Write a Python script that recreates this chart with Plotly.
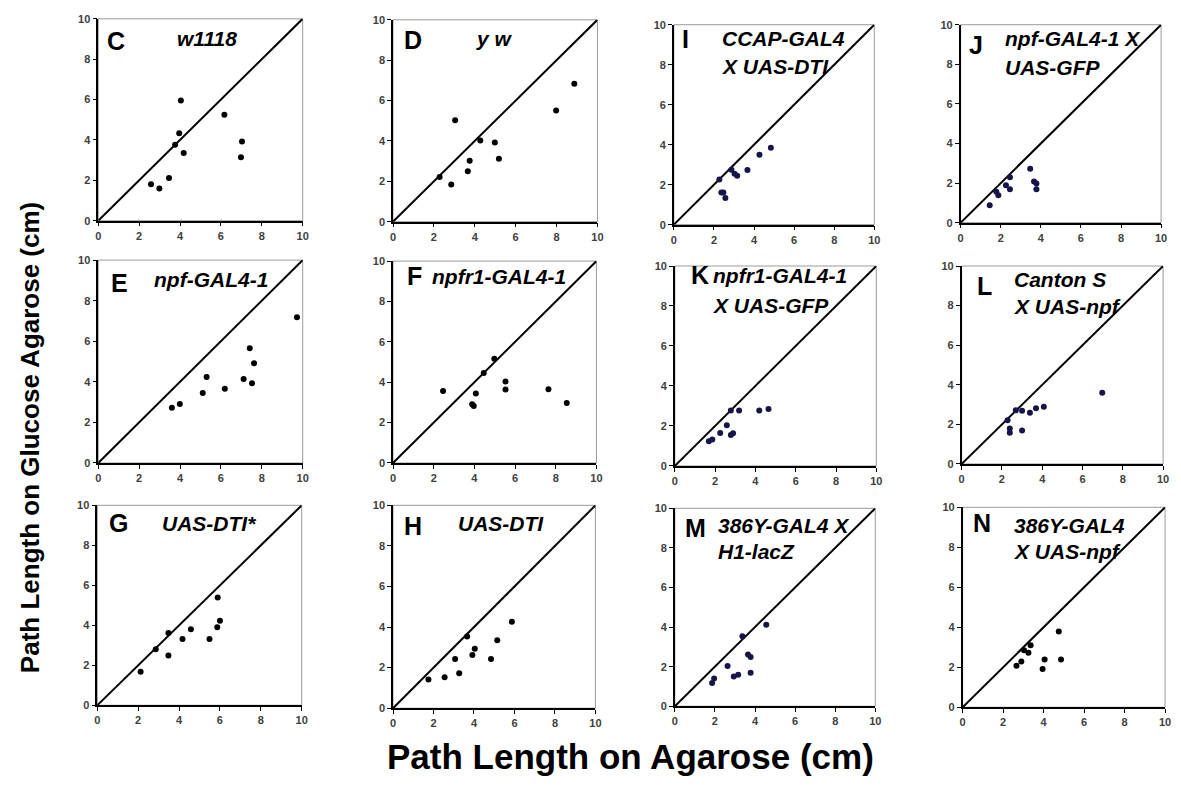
import plotly.graph_objects as go

# ---------------- data (Path length on agarose, glucose agarose; cm) ----------------
C_x = [2.58, 2.99, 3.46, 3.76, 3.96, 4.04, 4.18, 6.17, 6.98, 7.03]
C_y = [1.80, 1.59, 2.11, 3.76, 4.33, 5.95, 3.35, 5.25, 3.14, 3.92]
D_x = [2.28, 2.85, 3.04, 3.66, 3.75, 4.27, 4.98, 5.18, 7.98, 8.87]
D_y = [2.21, 1.84, 5.02, 2.50, 3.02, 4.02, 3.92, 3.12, 5.51, 6.83]
I_x = [2.27, 2.37, 2.47, 2.57, 2.87, 3.03, 3.16, 3.67, 4.27, 4.84]
I_y = [2.26, 1.61, 1.61, 1.33, 2.75, 2.55, 2.45, 2.73, 3.49, 3.84]
J_x = [1.45, 1.78, 1.88, 2.26, 2.46, 2.46, 3.47, 3.66, 3.78, 3.78]
J_y = [0.88, 1.56, 1.38, 1.89, 2.29, 1.69, 2.72, 2.08, 1.98, 1.69]
E_x = [3.60, 3.99, 5.11, 5.30, 6.19, 7.11, 7.41, 7.52, 7.62, 9.72]
E_y = [2.72, 2.91, 3.45, 4.24, 3.66, 4.14, 5.65, 3.93, 4.92, 7.18]
F_x = [2.46, 3.89, 3.97, 4.07, 4.46, 4.98, 5.53, 5.53, 7.64, 8.54]
F_y = [3.56, 2.91, 2.82, 3.44, 4.46, 5.16, 4.03, 3.64, 3.65, 2.97]
K_x = [1.69, 1.86, 2.25, 2.58, 2.78, 2.78, 2.89, 3.19, 4.19, 4.65]
K_y = [1.24, 1.32, 1.65, 2.03, 2.77, 1.55, 1.63, 2.77, 2.77, 2.85]
L_x = [2.28, 2.39, 2.39, 2.69, 3.00, 3.00, 3.39, 3.69, 4.08, 6.98]
L_y = [2.21, 1.79, 1.58, 2.71, 2.69, 1.69, 2.59, 2.81, 2.89, 3.60]
G_x = [2.12, 2.86, 3.48, 3.48, 4.17, 4.58, 5.49, 5.87, 5.89, 6.00]
G_y = [1.67, 2.80, 2.49, 3.61, 3.31, 3.80, 3.31, 3.90, 5.39, 4.23]
H_x = [1.75, 2.55, 3.07, 3.27, 3.66, 3.92, 4.04, 4.84, 5.15, 5.87]
H_y = [1.42, 1.52, 2.43, 1.72, 3.54, 2.62, 2.93, 2.43, 3.35, 4.26]
M_x = [1.86, 1.96, 2.63, 2.94, 3.16, 3.37, 3.65, 3.78, 3.78, 4.56]
M_y = [1.18, 1.40, 2.03, 1.50, 1.59, 3.54, 2.61, 2.49, 1.69, 4.12]
N_x = [2.66, 2.90, 3.03, 3.25, 3.36, 3.95, 4.05, 4.75, 4.86]
N_y = [2.08, 2.29, 2.85, 2.72, 3.10, 1.91, 2.39, 3.79, 2.39]

diag_x = [0, 10]
diag_y = [0, 10]
tick_vals = [0, 2, 4, 6, 8, 10]

panel_letters = ["C", "D", "I", "J", "E", "F", "K", "L", "G", "H", "M", "N"]
panel_titles = [
    ["w1118"], ["y w"], ["CCAP-GAL4", "X UAS-DTI"], ["npf-GAL4-1 X", "UAS-GFP"],
    ["npf-GAL4-1"], ["npfr1-GAL4-1"], ["npfr1-GAL4-1", "X UAS-GFP"], ["Canton S", "X UAS-npf"],
    ["UAS-DTI*"], ["UAS-DTI"], ["386Y-GAL4 X", "H1-lacZ"], ["386Y-GAL4", "X UAS-npf"],
]
xs = [C_x, D_x, I_x, J_x, E_x, F_x, K_x, L_x, G_x, H_x, M_x, N_x]
ys = [C_y, D_y, I_y, J_y, E_y, F_y, K_y, L_y, G_y, H_y, M_y, N_y]

# ---------------- layout (pixels) ----------------
W, H = 1181, 793
boxes = [  # left, top, right, bottom
    (96, 13, 302, 218), (393, 14, 599, 219), (676, 19, 878, 222), (965, 19, 1167, 220),
    (96, 258, 302, 464), (393, 259, 598, 464), (677, 264, 880, 467), (966, 264, 1169, 465),
    (95, 507, 301, 710), (393, 507, 597, 713), (677, 510, 879, 711), (967, 509, 1171, 712),
]
marker_colors = ["#000000", "#000000", "#15154a", "#15154a",
                 "#000000", "#000000", "#15154a", "#15154a",
                 "#000000", "#000000", "#15154a", "#000000"]
letter_pos = [(114, 36), (413, 35), (688, 33), (980, 40),
              (117, 281), (415, 274), (702, 273), (989, 284),
              (116, 525), (413, 528), (698, 530), (987, 525)]
title_pos = [("c", 206, 33, 0), ("c", 495, 33, 0), ("l", 723, 33, 28), ("l", 1008, 33, 29),
             ("c", 210, 278, 0), ("c", 500, 275, 0), ("l", 713, 274, 30), ("l", 1017, 278, 27),
             ("c", 208, 525, 0), ("c", 502, 525, 0), ("l", 718, 527, 27), ("l", 1017, 527, 27)]

FONT = "Arial, 'Liberation Sans', sans-serif"

fig = go.Figure()
annotations = []
shapes = []
for i in range(12):
    n = i + 1
    sfx = "" if n == 1 else str(n)
    l, t, r, b = boxes[i]
    common = dict(range=[0, 10], tickvals=tick_vals,
                  showline=True, linecolor="black", linewidth=1.5, mirror=False,
                  ticks="outside", ticklen=4, tickwidth=1, tickcolor="black",
                  showgrid=False, zeroline=False,
                  tickfont=dict(family=FONT, size=11, color="#404040", weight="bold"))
    fig.layout["xaxis" + sfx] = dict(domain=[l / W, r / W], anchor="y" + sfx, **common)
    fig.layout["yaxis" + sfx] = dict(domain=[1 - b / H, 1 - t / H], anchor="x" + sfx, **common)
    shapes.append(dict(type="rect", xref="x" + sfx + " domain", yref="y" + sfx + " domain",
                       x0=0, x1=1, y0=0, y1=1, line=dict(color="#9a9a9a", width=1),
                       layer="below"))
    fig.add_trace(go.Scatter(x=diag_x, y=diag_y, mode="lines",
                             line=dict(color="black", width=2),
                             xaxis="x" + sfx, yaxis="y" + sfx, showlegend=False,
                             hoverinfo="skip"))
    fig.add_trace(go.Scatter(x=xs[i], y=ys[i], mode="markers",
                             marker=dict(color=marker_colors[i], size=6),
                             xaxis="x" + sfx, yaxis="y" + sfx, showlegend=False))
    lx, ly = letter_pos[i]
    annotations.append(dict(text="<b>" + panel_letters[i] + "</b>", x=lx / W, y=1 - ly / H,
                            xref="paper", yref="paper", showarrow=False,
                            xanchor="center", yanchor="middle",
                            font=dict(family=FONT, size=25, color="black")))
    mode, tx, ty, dy = title_pos[i]
    for k, line in enumerate(panel_titles[i]):
        annotations.append(dict(text="<b><i>" + line + "</i></b>", x=tx / W,
                                y=1 - (ty + k * dy) / H,
                                xref="paper", yref="paper", showarrow=False,
                                xanchor="center" if mode == "c" else "left",
                                yanchor="middle",
                                font=dict(family=FONT, size=21, color="black")))

annotations.append(dict(text="<b>Path Length on Glucose Agarose (cm)</b>", x=28 / W, y=1 - 438 / H,
                        xref="paper", yref="paper", showarrow=False, textangle=-90,
                        xanchor="center", yanchor="middle",
                        font=dict(family=FONT, size=26, color="black")))
annotations.append(dict(text="<b>Path Length on Agarose (cm)</b>", x=632 / W, y=1 - 762 / H,
                        xref="paper", yref="paper", showarrow=False,
                        xanchor="center", yanchor="middle",
                        font=dict(family=FONT, size=35, color="black")))

fig.update_layout(width=W, height=H, margin=dict(l=0, r=0, t=0, b=0),
                  paper_bgcolor="white", plot_bgcolor="white",
                  annotations=annotations, shapes=shapes, showlegend=False)

fig.write_html("out.html")
